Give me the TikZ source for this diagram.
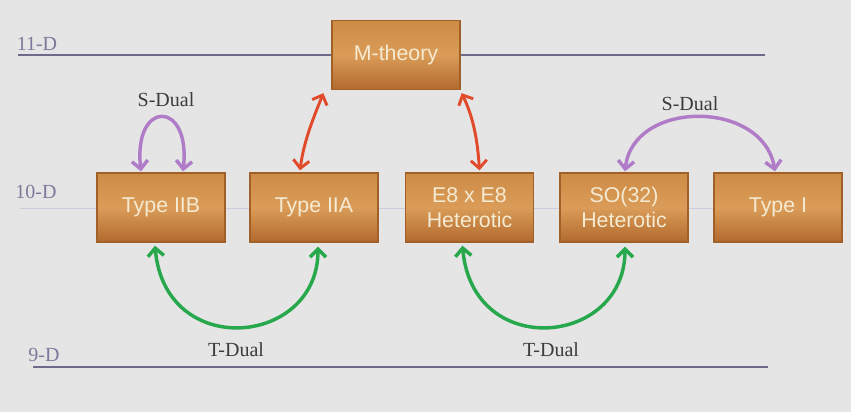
\documentclass[tikz,border=0pt]{standalone}
\usepackage{fontspec}
\setmainfont{Liberation Serif}
\newfontfamily\boxfont{Liberation Sans}
\usetikzlibrary{arrows.meta,calc}

\definecolor{bggray}{RGB}{229,229,229}
\definecolor{levelline}{RGB}{110,106,138}
\definecolor{faintline}{RGB}{205,204,218}
\definecolor{levelcol}{RGB}{125,121,156}
\definecolor{labelcol}{RGB}{60,60,60}
\definecolor{woodtop}{RGB}{205,140,70}
\definecolor{woodmid}{RGB}{218,156,88}
\definecolor{woodbot}{RGB}{178,106,46}
\definecolor{woodedge}{RGB}{160,96,40}
\definecolor{woodtext}{RGB}{245,234,210}
\definecolor{sdualcol}{RGB}{176,124,200}
\definecolor{mcol}{RGB}{226,74,44}
\definecolor{tdualcol}{RGB}{40,168,76}

\tikzset{every picture/.style={line width=0.75pt}}
\tikzset{
  wood/.style={draw=woodedge, line width=1pt, top color=woodtop, bottom color=woodbot, middle color=woodmid,
    minimum width=96pt, minimum height=51.75pt, inner sep=0.75pt, align=center, text=woodtext,
    font=\boxfont\fontsize{16}{19}\selectfont},
  level/.style={draw=levelline, line width=1.5pt},
  faint/.style={draw=faintline, line width=0.75pt},
  levellabel/.style={text=levelcol, inner sep=0.75pt, font=\fontsize{15}{17}\selectfont},
  duallabel/.style={text=labelcol, inner sep=0.75pt, font=\fontsize{15}{17}\selectfont},
  barb/.style={{Straight Barb[length=6pt,width=12pt]}-{Straight Barb[length=6pt,width=12pt]}},
  sdual/.style={barb, draw=sdualcol, line width=2.6pt},
  mlink/.style={barb, draw=mcol, line width=2.2pt},
  tdual/.style={barb, draw=tdualcol, line width=2.6pt}
}

\begin{document}
\begin{tikzpicture}[x=0.75pt,y=0.75pt,yscale=-1,xscale=1]
%set diagram left start at 0, and has height of 412
\useasboundingbox (0,0) rectangle (851,412);
\fill [bggray] (0,0) rectangle (851,412);

%Straight Lines: levels
\draw [level] (18,55) -- (765,55) ;
\draw [faint] (20,208) -- (772,208) ;
\draw [level] (33,367) -- (768,367) ;

% Text Node
\node [levellabel] (d11) at (37,44) {11-D};
% Text Node
\node [levellabel] (d10) at (36,192) {10-D};
% Text Node
\node [levellabel] (d9) at (44,355) {9-D};

%Shape: Rectangle
\node [wood] (mth) at (396,55) {M-theory};
%Shape: Rectangle
\node [wood] (iib) at (161,207.5) {Type IIB};
%Shape: Rectangle
\node [wood] (iia) at (314,207.5) {Type IIA};
%Shape: Rectangle
\node [wood] (het8) at (469.5,207.5) {E8 x E8\\Heterotic};
%Shape: Rectangle
\node [wood] (het32) at (624,207.5) {SO(32)\\Heterotic};
%Shape: Rectangle
\node [wood] (typei) at (778,207.5) {Type I};

%Curve Lines: S-duality
\draw [sdual] ($(iib.north)+(-20,-1)$) .. controls +(-8,-72) and +(8,-72) .. ($(iib.north)+(22,-1)$) ;
\draw [sdual] ($(het32.north)+(1,-1)$) .. controls +(8,-72) and +(-12,-72) .. ($(typei.north)+(-3,-1)$) ;

%Curve Lines: M-theory links
\draw [mlink] ($(mth.south west)+(-8,3)$) .. controls +(-10,25) and +(4,-30) .. ($(iia.north)+(-14,-2)$) ;
\draw [mlink] ($(mth.south east)+(1,3)$) .. controls +(12,25) and +(-2,-30) .. ($(het8.north)+(10,-2)$) ;

%Curve Lines: T-duality
\draw [tdual] ($(iib.south)+(-6,3)$) .. controls +(10,115) and +(0,100) .. ($(iia.south)+(4,4)$) ;
\draw [tdual] ($(het8.south)+(-7,3)$) .. controls +(10,115) and +(0,100) .. ($(het32.south)+(1,4)$) ;

% Text Node
\node [duallabel] (sleft) at (166,100) {S-Dual};
% Text Node
\node [duallabel] (sright) at (690,104) {S-Dual};
% Text Node
\node [duallabel] (tleft) at (236,350) {T-Dual};
% Text Node
\node [duallabel] (tright) at (551,350) {T-Dual};

\end{tikzpicture}
\end{document}
